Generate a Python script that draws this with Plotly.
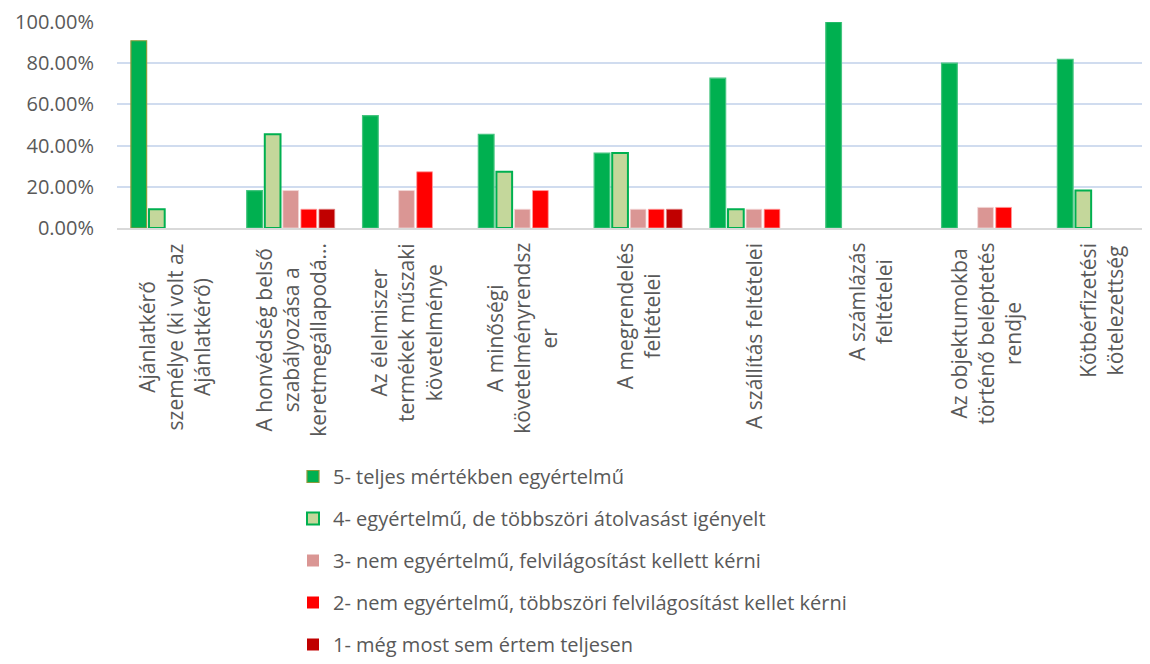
import plotly.graph_objects as go

categories = [
    "Ajánlatkérő<br>személye (ki volt az<br>Ajánlatkérő)",
    "A honvédség belső<br>szabályozása a<br>keretmegállapodá...",
    "Az élelmiszer<br>termékek műszaki<br>követelménye",
    "A minőségi<br>követelményrendsz<br>er",
    "A megrendelés<br>feltételei",
    "A szállítás feltételei",
    "A számlázás<br>feltételei",
    "Az objektumokba<br>történő beléptetés<br>rendje",
    "Kötbérfizetési<br>kötelezettség",
]

series_names = [
    "5- teljes mértékben egyértelmű",
    "4- egyértelmű, de többszöri átolvasást igényelt",
    "3- nem egyértelmű, felvilágosítást kellett kérni",
    "2- nem egyértelmű, többszöri felvilágosítást kellet kérni",
    "1- még most sem értem teljesen",
]

# values in percent
s5 = [90.91, 18.18, 54.55, 45.45, 36.36, 72.73, 100.00, 80.00, 81.82]
s4 = [9.09, 45.45, 0, 27.27, 36.36, 9.09, 0, 0, 18.18]
s3 = [0, 18.18, 18.18, 9.09, 9.09, 9.09, 0, 10.00, 0]
s2 = [0, 9.09, 27.27, 18.18, 9.09, 9.09, 0, 10.00, 0]
s1 = [0, 9.09, 0, 0, 9.09, 0, 0, 0, 0]

y_ticks = [0, 0.2, 0.4, 0.6, 0.8, 1.0]

fill_colors = ["#00B050", "#C4D79B", "#DA9694", "#FF0000", "#C00000"]
edge_colors = [
    ["#8C9A3C"] + ["#45C47F"] * 8,
    "#00B050",
    "#F2D6D5",
    "#FF9A9A",
    "#E08080",
]
edge_widths = [1.2, 2, 0.8, 0.8, 0.8]

TEXT = "#595959"
FONT = "Open Sans"

# page body has an 8px margin: size the figure so the screen layout matches
FIG_W, FIG_H = 1142, 656

fig = go.Figure()
for name, vals, fc, ec, ew in zip(series_names, [s5, s4, s3, s2, s1],
                                  fill_colors, edge_colors, edge_widths):
    fig.add_trace(go.Bar(
        x=categories,
        y=[v / 100 for v in vals],
        name=name,
        legendgroup=name,
        marker=dict(color=fc,
                    line=dict(color=ec, width=[ew if v else 0 for v in vals])),
    ))

annotations = []
for cat in categories:
    annotations.append(dict(
        x=cat, xref="x", y=0, yref="paper",
        xanchor="center", yanchor="top", yshift=-13,
        text=cat, textangle=-90, align="center", showarrow=False,
        font=dict(family=FONT, size=21, color=TEXT),
    ))

fig.update_layout(
    width=FIG_W, height=FIG_H,
    margin=dict(l=109, r=0, t=14, b=436, autoexpand=False),
    paper_bgcolor="white", plot_bgcolor="white",
    barmode="group", bargap=0.22, bargroupgap=0.13,
    font=dict(family=FONT, size=20, color=TEXT),
    showlegend=True,
    legend=dict(
        orientation="v", xref="container", yref="container",
        x=285 / FIG_W, xanchor="left", y=1 - 449 / FIG_H, yanchor="top",
        font=dict(family=FONT, size=20, color=TEXT),
        tracegroupgap=13, traceorder="grouped",
        bgcolor="rgba(0,0,0,0)",
    ),
    annotations=annotations,
)
fig.update_xaxes(
    type="category", range=[-0.5, 8.42], showticklabels=False,
    showline=True, linecolor="#D9D9D9", linewidth=2, showgrid=False,
    ticks="",
)
fig.update_yaxes(
    range=[0, 1], tickvals=y_ticks, tickformat=".2%",
    showgrid=True, gridcolor="#D0DCEF", gridwidth=1.5,
    zeroline=False, showline=False, ticks="",
    ticklabelstandoff=22,
    tickfont=dict(family=FONT, size=20, color=TEXT),
)

fig.write_html("out.html")
